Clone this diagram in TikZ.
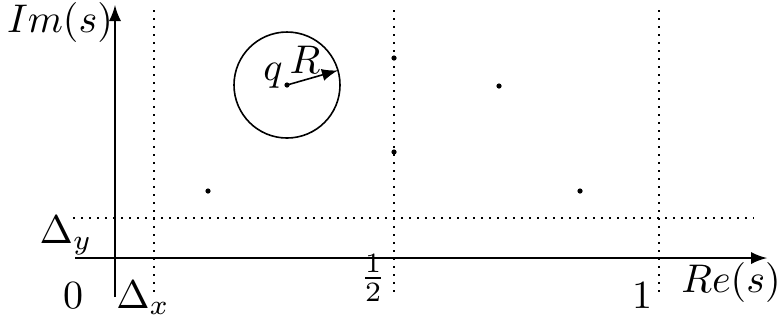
\documentclass[tikz,border=0pt]{standalone}
\usepackage{amsmath, amssymb}
\usetikzlibrary{calc}

\begin{document}
\begin{tikzpicture}[x=0.25pt, y=-0.25pt, line width=0.4pt,
    grid/.style={line width=0.5pt, dash pattern=on 0.5pt off 1.5pt},
    pole/.style={circle, fill=black, inner sep=0pt, minimum size=1.3pt}]
      \useasboundingbox (0,0) rectangle (777,326);

      % 1. 軸與虛線的端點
      \coordinate (O) at (115,258);
      \coordinate (im_b) at (115,297);
      \coordinate (im_t) at (115,5);
      \coordinate (re_l) at (75,258);
      \coordinate (re_r) at (767,258);
      \coordinate (dy_l) at (73,218);
      \coordinate (dy_r) at (754,218);
      \coordinate (dx_t) at (154,10);
      \coordinate (dx_b) at (154,298);
      \coordinate (h_t) at (394,10);
      \coordinate (h_b) at (394,298);
      \coordinate (one_t) at (659,10);
      \coordinate (one_b) at (659,298);

      % 2. 繪製座標軸
      \draw[-latex] (im_b) -- (im_t);
      \draw[-latex] (re_l) -- (re_r);

      % 3. 繪製虛線 Delta_x, 1/2, 1, Delta_y
      \draw[grid] (dy_l) -- (dy_r);
      \draw[grid] (dx_t) -- (dx_b);
      \draw[grid] (h_t) -- (h_b);
      \draw[grid] (one_t) -- (one_b);

      % 4. 圓心 q 與半徑 R
      \coordinate (q) at (287,85);
      \draw (q) circle (53);
      \coordinate (q_R) at ($(q)+(-16:53)$);
      \draw[-latex] (q) -- (q_R);

      % 5. 點
      \node[pole] (p_q) at (q) {};
      \node[pole] (p_1) at (208,191) {};
      \node[pole] (p_2) at (394,58) {};
      \node[pole] (p_3) at (394,152) {};
      \node[pole] (p_4) at (499,86) {};
      \node[pole] (p_5) at (580,191) {};

      % 6. 標籤
      \node[anchor=base] (l_im) at (60,32) {$Im(s)$};
      \node[anchor=base] (l_re) at (731,292) {$Re(s)$};
      \node[anchor=base] (l_zero) at (73,308) {$0$};
      \node[anchor=base] (l_dx) at (143,308) {$\Delta_x$};
      \node[anchor=base] (l_dy) at (66,243) {$\Delta_y$};
      \node[anchor=base] (l_half) at (373,288) {$\frac{1}{2}$};
      \node[anchor=base] (l_one) at (642,308) {$1$};
      \node[anchor=base] (l_q) at (273,80) {$q$};
      \node[anchor=base] (l_R) at (305,73) {$R$};
\end{tikzpicture}
\end{document}
